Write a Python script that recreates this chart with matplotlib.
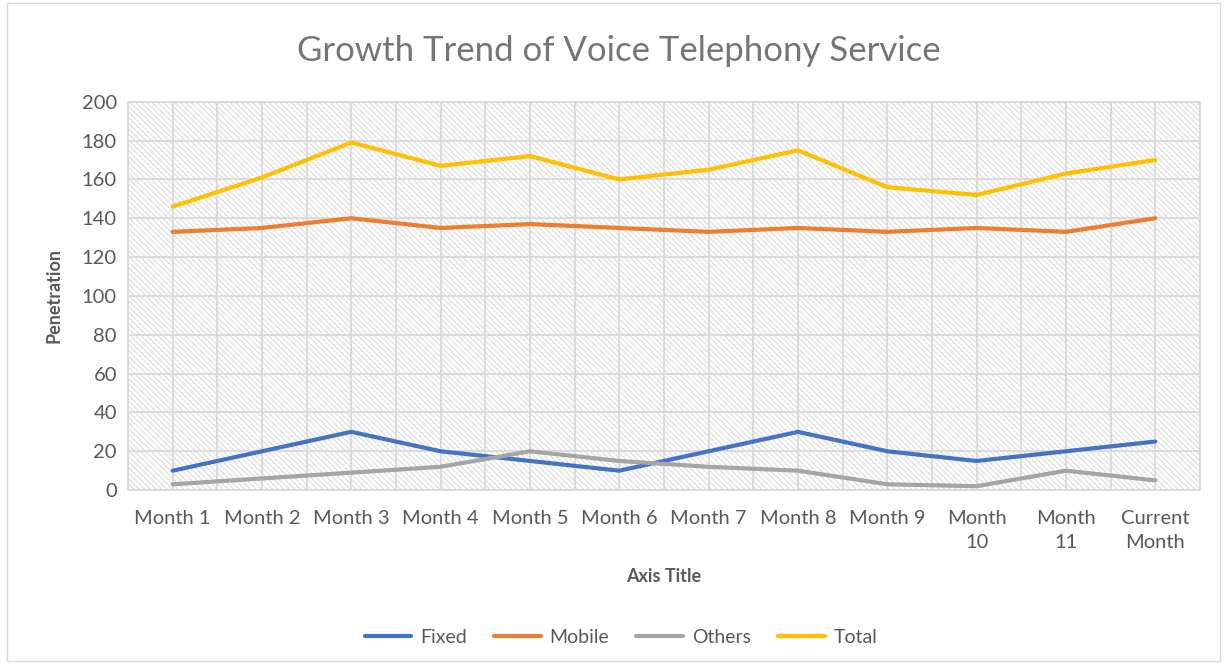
import matplotlib.pyplot as plt
import numpy as np
from matplotlib.patches import Rectangle

months = ["Month 1", "Month 2", "Month 3", "Month 4", "Month 5", "Month 6",
          "Month 7", "Month 8", "Month 9", "Month\n10", "Month\n11", "Current\nMonth"]
fixed = [10, 20, 30, 20, 15, 10, 20, 30, 20, 15, 20, 25]
mobile = [133, 135, 140, 135, 137, 135, 133, 135, 133, 135, 133, 140]
others = [3, 6, 9, 12, 20, 15, 12, 10, 3, 2, 10, 5]
total = [146, 161, 179, 167, 172, 160, 165, 175, 156, 152, 163, 170]

series = [("Fixed", fixed, "#4472C4"),
          ("Mobile", mobile, "#ED7D31"),
          ("Others", others, "#A5A5A5"),
          ("Total", total, "#FFC000")]

plt.rcParams['font.family'] = ['Lato', 'DejaVu Sans']
plt.rcParams['hatch.linewidth'] = 0.7

fig = plt.figure(figsize=(12.25, 6.65), dpi=100)
ax = fig.add_axes([0.1045, 0.263, 0.875, 0.584])

# hatched plot area background
ax.add_patch(Rectangle((0, 0), 1, 1, transform=ax.transAxes, facecolor='white',
                       edgecolor='#d8d8d8', lw=0, hatch='\\' * 6, zorder=0))

x = np.arange(len(months))
for name, vals, col in series:
    ax.plot(x, vals, color=col, lw=3, label=name, zorder=3, solid_capstyle='round')

ax.set_xlim(-0.5, len(months) - 0.5)
ax.set_ylim(0, 200)
ax.set_yticks(range(0, 201, 20))
ax.set_xticks(x)
ax.set_xticklabels(months, linespacing=1.55, va='top')
ax.set_xticks(np.arange(-0.5, len(months), 1.0), minor=True)
ax.grid(True, which='both', axis='x', color='#d9d9d9', lw=1.3, zorder=1)
ax.grid(True, which='major', axis='y', color='#d9d9d9', lw=1.3, zorder=1)
ax.set_axisbelow(True)
ax.tick_params(which='both', length=0)
ax.tick_params(axis='x', labelsize=14.5, colors='#595959', pad=14)
ax.tick_params(axis='y', labelsize=14.5, colors='#595959', pad=8)
for s in ax.spines.values():
    s.set_color('#d9d9d9')
    s.set_linewidth(1.3)

ax.set_ylabel("Penetration", fontsize=13, fontweight='bold', color='#595959', labelpad=14)
ax.set_xlabel("Axis Title", fontsize=13, fontweight='bold', color='#595959', labelpad=12)

fig.text(0.505, 0.923, "Growth Trend of Voice Telephony Service", ha='center', va='center',
         fontsize=25, color='#757575')

fig.legend(loc='center', bbox_to_anchor=(0.507, 0.042), ncol=4, frameon=False,
           fontsize=14, labelcolor='#595959', handlelength=2.4, handletextpad=0.45,
           columnspacing=1.4)

fig.patches.append(Rectangle((0.006, 0.006), 0.99, 0.99, transform=fig.transFigure,
                             fill=False, edgecolor='#d9d9d9', lw=1))

fig.savefig("out.png", dpi=100)
